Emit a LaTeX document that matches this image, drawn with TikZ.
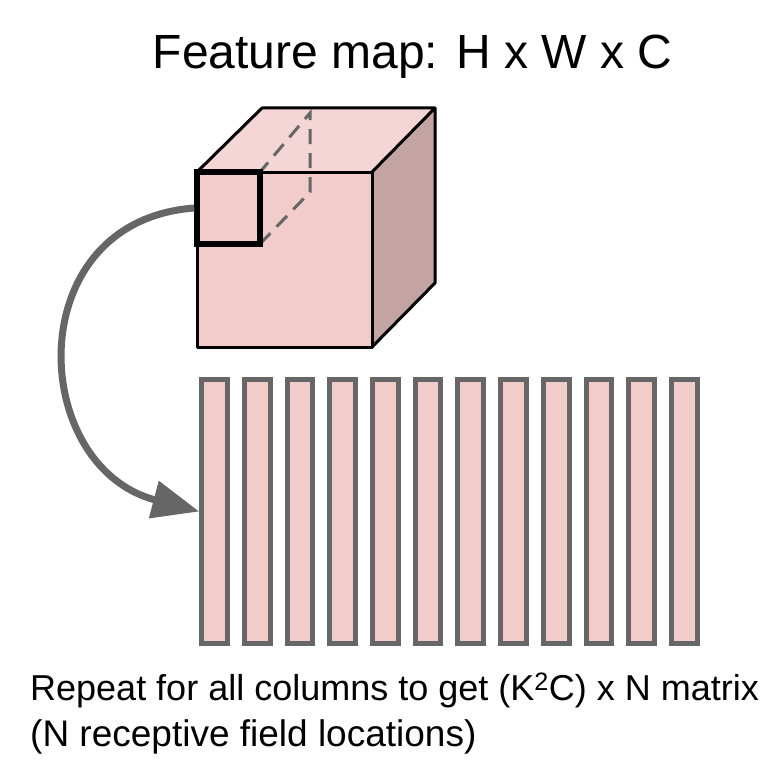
\documentclass[tikz,border=0pt]{standalone}
\usepackage{fontspec}
\setmainfont{Liberation Sans}
\usepackage{xcolor}
\definecolor{facefront}{HTML}{F2CBCB}
\definecolor{facetop}{HTML}{F5D6D6}
\definecolor{faceside}{HTML}{C4A3A3}
\definecolor{edgegray}{HTML}{666666}
\usetikzlibrary{arrows.meta}

\begin{document}
\begin{tikzpicture}[x=1pt, y=-1pt,
    face/.style={draw=black, line width=3pt, line join=round},
    hidden/.style={edgegray, line width=3pt, dash pattern=on 15pt off 9pt},
    rfbox/.style={draw=black, line width=5.5pt, minimum width=63pt, minimum height=72pt, inner sep=0pt},
    column/.style={draw=edgegray, fill=facefront, line width=5pt, minimum width=25.7pt, minimum height=264pt, inner sep=0pt},
    flow/.style={-{Triangle[length=47pt, width=37pt]}, edgegray, line width=7pt},
    label/.style={anchor=base west, inner sep=0pt},
]
\useasboundingbox (0,0) rectangle (783,770);

%% --- title ---
\node[font=\fontsize{48}{58}\selectfont, anchor=base, inner sep=0pt] (title) at (412.5,69)
    {Feature map: H x W x C};

%% --- cube ---
\fill[facefront] (197,172) rectangle (372,347);
\fill[facetop] (197,172) -- (262,108) -- (435,108) -- (372,172) -- cycle;
\fill[faceside] (372,172) -- (435,108) -- (435,283) -- (372,347) -- cycle;

%% --- hidden edges of the receptive field ---
\draw[hidden] (260,244) -- (310,192) -- (310,113) -- (260,172);

%% --- cube edges ---
\draw[face] (197,172) rectangle (372,347);
\draw[face] (197,172) -- (262,108) -- (435,108) -- (372,172);
\draw[face] (435,108) -- (435,283) -- (372,347);

%% --- receptive field ---
\node[rfbox] (rf) at (228.5,208) {};

%% --- columns ---
\foreach \i in {1,...,12}{
    \node[column] (col\i) at ({214.6+42.7*(\i-1)},511.5) {};
}

%% --- stretch one field into a column ---
\draw[flow] (rf.west) .. controls (19,221) and (28,466.5) .. (col1.west);

%% --- caption ---
\node[label, font=\fontsize{36}{43}\selectfont] (cap1) at (30,700)
    {Repeat for all columns to get (K\textsuperscript{2}C) x N matrix};
\node[label, font=\fontsize{37}{43}\selectfont] (cap2) at (30,746.5)
    {(N receptive field locations)};

\end{tikzpicture}
\end{document}
